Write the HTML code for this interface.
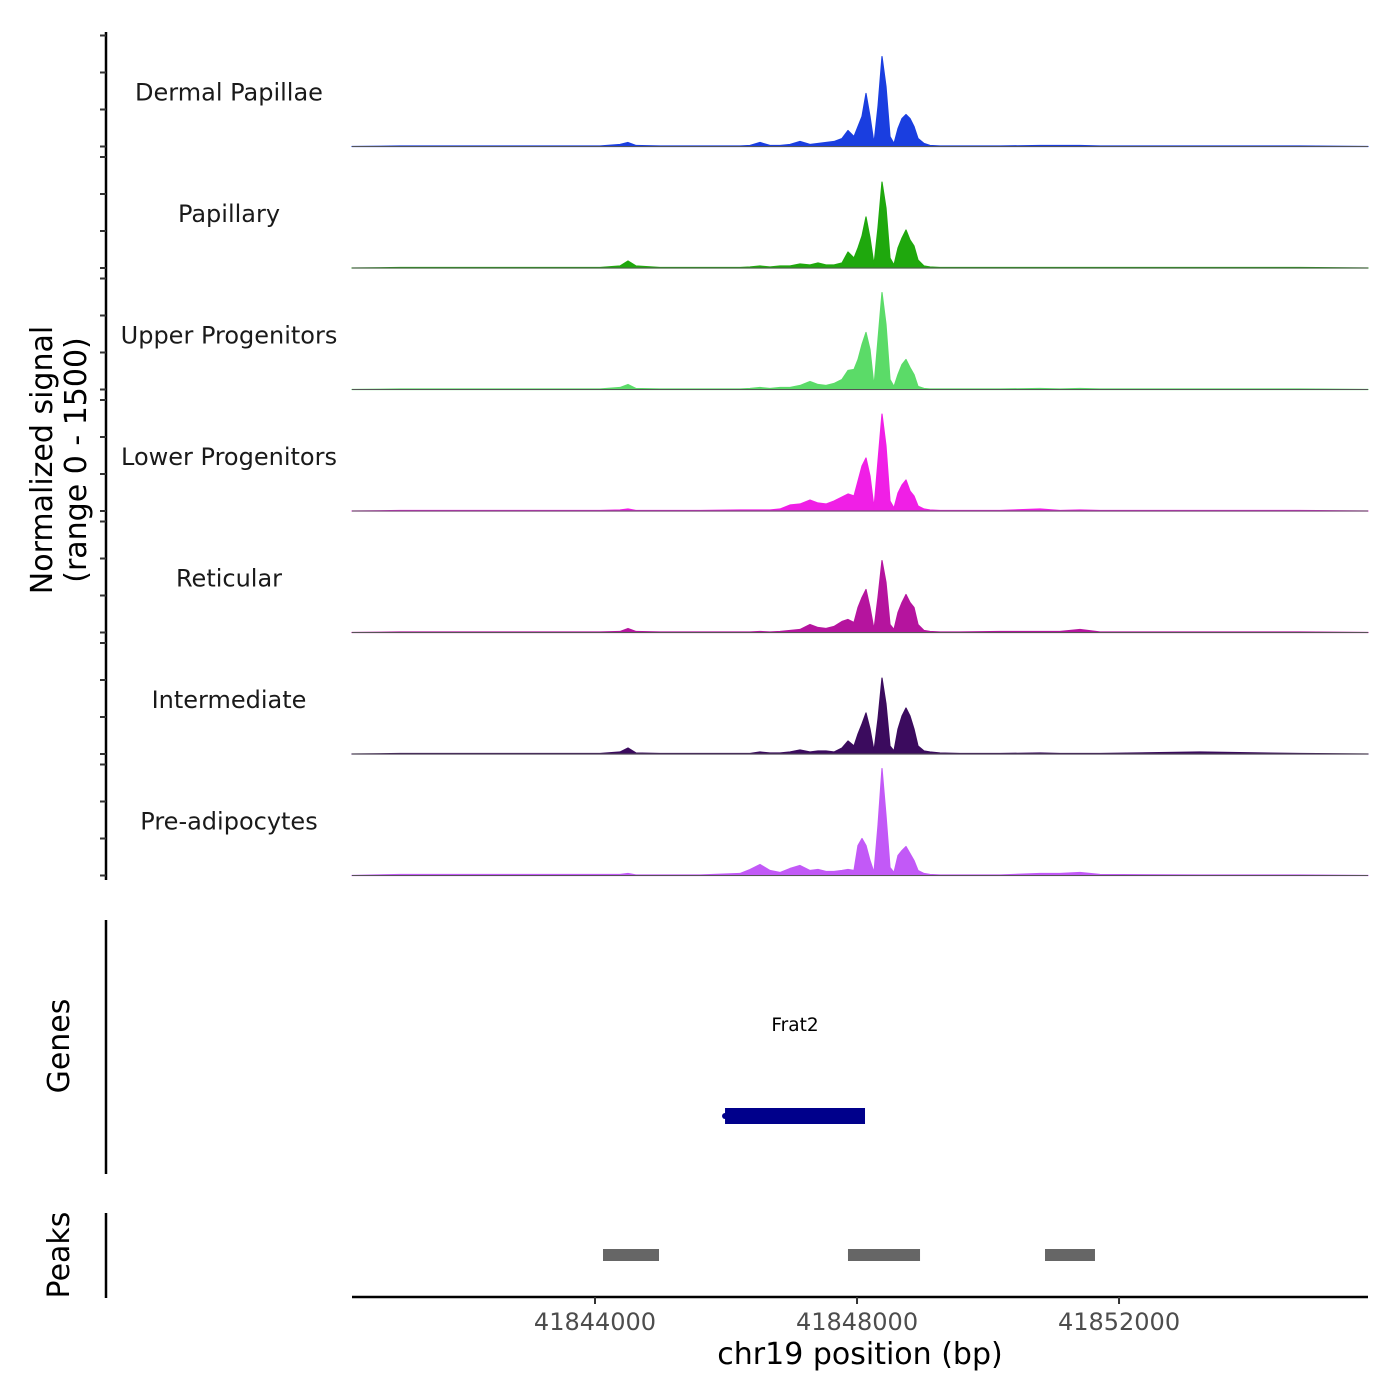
<!DOCTYPE html>
<html><head><meta charset="utf-8"><style>
html,body{margin:0;padding:0;background:#fff;}
svg{display:block;font-family:"DejaVu Sans","Liberation Sans",sans-serif;}
</style></head><body>
<svg id="chart" width="1400" height="1400" viewBox="0 0 1400 1400" xmlns="http://www.w3.org/2000/svg">
<rect width="1400" height="1400" fill="#fff"/>
<g id="tracks"></g>
<line x1="106" y1="32" x2="106" y2="880" stroke="#000" stroke-width="2.5"/>
<g id="yticks"></g>
<text transform="translate(52,460) rotate(-90)" text-anchor="middle" font-size="30" fill="#000">Normalized signal</text>
<text transform="translate(86,460) rotate(-90)" text-anchor="middle" font-size="30" fill="#000">(range 0 - 1500)</text>
<line x1="106" y1="920" x2="106" y2="1174" stroke="#000" stroke-width="2.5"/>
<text transform="translate(69,1046) rotate(-90)" text-anchor="middle" font-size="30" fill="#000">Genes</text>
<g id="genes"></g>
<line x1="106" y1="1213" x2="106" y2="1298" stroke="#000" stroke-width="2.5"/>
<text transform="translate(69,1255) rotate(-90)" text-anchor="middle" font-size="30" fill="#000">Peaks</text>
<g id="peaks"></g>
<line x1="352" y1="1297" x2="1368" y2="1297" stroke="#000" stroke-width="2.5"/>
<g id="xticks"></g>
<text x="860" y="1364" text-anchor="middle" font-size="30" fill="#000">chr19 position (bp)</text>
</svg>
<script>
const trackNames = ["Dermal Papillae","Papillary","Upper Progenitors","Lower Progenitors","Reticular","Intermediate","Pre-adipocytes"];
const trackColors = ["#1a3ee0","#1fa80d","#5bdb68","#f01fe6","#b5149e","#3b0b5e","#c259f7"];
const positions = [41840290,41841023,41841939,41842855,41844076,41844382,41844504,41844626,41844992,41845603,41846214,41846366,41846519,41846672,41846824,41846977,41847130,41847282,41847404,41847527,41847649,41847771,41847862,41847954,41848015,41848076,41848137,41848198,41848259,41848320,41848381,41848443,41848504,41848565,41848626,41848687,41848748,41848809,41848870,41848931,41849023,41849114,41849267,41849572,41850183,41850794,41851099,41851404,41851710,41853236,41854763,41855801];
const dermalPapillae = [0,7,7,7,7,27,54,14,7,7,7,14,54,14,14,27,68,27,40,54,68,108,216,135,270,405,716,405,40,540,1215,810,135,40,243,378,432,378,270,108,40,14,7,7,7,14,14,14,7,7,7,0];
const papillary = [0,7,7,7,7,27,95,27,7,7,7,14,27,14,27,27,54,40,68,40,40,68,216,135,270,432,689,405,40,540,1161,810,135,40,270,405,513,378,297,108,27,14,7,7,7,7,7,7,7,7,7,0];
const upperProgenitors = [0,7,7,7,7,27,68,14,7,7,7,14,27,14,27,27,54,108,68,54,81,135,257,270,405,608,770,540,40,675,1310,878,135,40,203,338,405,297,203,40,14,7,7,7,7,14,7,14,7,7,7,0];
const lowerProgenitors = [0,7,7,7,7,14,27,7,7,7,14,14,14,14,27,81,95,149,108,95,135,189,230,203,405,608,716,473,40,675,1310,878,135,40,243,351,419,270,203,68,27,14,7,7,7,27,7,14,7,7,7,0];
const reticular = [0,7,7,7,7,14,54,14,7,7,7,7,14,7,14,27,40,108,68,54,81,149,176,135,338,473,581,338,40,473,972,675,108,40,270,405,513,405,338,108,27,14,7,7,14,14,14,40,7,7,7,0];
const intermediate = [0,7,7,7,7,27,81,14,7,7,7,7,27,14,14,27,54,27,40,40,27,81,176,108,270,405,554,338,40,473,1026,675,108,40,338,513,621,513,338,108,40,27,14,7,7,14,7,7,7,27,7,0];
const preAdipocytes = [0,14,14,14,14,14,27,7,7,7,27,81,149,68,40,95,135,68,81,54,54,68,81,68,405,500,405,203,40,675,1445,810,108,40,270,338,392,297,203,68,27,14,7,7,7,27,27,40,14,7,7,0];
const trackValues = [dermalPapillae,papillary,upperProgenitors,lowerProgenitors,reticular,intermediate,preAdipocytes];
const xTickValues = [41844000,41848000,41852000];
const geneNames = ["Frat2"];
const geneStarts = [41845985];
const geneEnds = [41848122];
const peakStarts = [41844122,41847862,41850870];
const peakEnds = [41844977,41848962,41851633];

const NS="http://www.w3.org/2000/svg";
const xMin=41840290, xMax=41855801, pxL=352, pxR=1368;
function xs(bp){return pxL+(bp-xMin)/(xMax-xMin)*(pxR-pxL);}
const base0=146.5, trackH=121.5, yRange=1500, yPx=111;
function ys(v,i){return base0+i*trackH - v/yRange*yPx;}
function mk(tag,attrs,parent){const e=document.createElementNS(NS,tag);for(const k in attrs)e.setAttribute(k,attrs[k]);parent.appendChild(e);return e;}

const tg=document.getElementById('tracks');
const yt=document.getElementById('yticks');
trackValues.forEach((vals,i)=>{
  const base=base0+i*trackH;
  let d=`M${xs(positions[0])},${base}`;
  vals.forEach((v,j)=>{d+=` L${xs(positions[j]).toFixed(1)},${ys(v,i).toFixed(1)}`;});
  d+=` L${xs(positions[positions.length-1])},${base} Z`;
  const p=mk('path',{d:d,fill:trackColors[i],stroke:trackColors[i],'stroke-width':1.2,'stroke-linejoin':'round'},tg);
  
  
  const bl=mk('line',{x1:pxL,x2:pxR,y1:base,y2:base,stroke:'#555','stroke-width':1},tg);
  
  
  const t=mk('text',{x:229,y:base-46,'text-anchor':'middle','font-size':24,fill:'#1a1a1a'},tg);
  t.textContent=trackNames[i];
  
  
  [0,500,1000,1500].forEach(v=>{
    const y=ys(v,i);
    const tk=mk('line',{x1:100,x2:106,y1:y,y2:y,stroke:'#333','stroke-width':2},yt);
    
    
  });
});

const gg=document.getElementById('genes');
geneNames.forEach((g,i)=>{
  const x1=xs(geneStarts[i]),x2=xs(geneEnds[i]);
  const r=mk('rect',{x:x1,y:1108,width:x2-x1,height:16,fill:'#00008b'},gg);
  
  
  const c=mk('circle',{cx:x1,cy:1116,r:3,fill:'#00008b'},gg);
  
  
  const t=mk('text',{x:(x1+x2)/2,y:1031,'text-anchor':'middle','font-size':18.5,fill:'#000'},gg);
  t.textContent=g;
  
  
});

const pg=document.getElementById('peaks');
peakStarts.forEach((s,i)=>{
  const x1=xs(s),x2=xs(peakEnds[i]);
  const r=mk('rect',{x:x1,y:1249,width:x2-x1,height:12,fill:'#666'},pg);
  
  
});

const xg=document.getElementById('xticks');
xTickValues.forEach(v=>{
  const x=xs(v);
  const l=mk('line',{x1:x,x2:x,y1:1297,y2:1304,stroke:'#333','stroke-width':2},xg);
  
  
  const t=mk('text',{x:x,y:1330,'text-anchor':'middle','font-size':24,fill:'#4d4d4d'},xg);
  t.textContent=String(v);
  
  
});
</script>
</body></html>
